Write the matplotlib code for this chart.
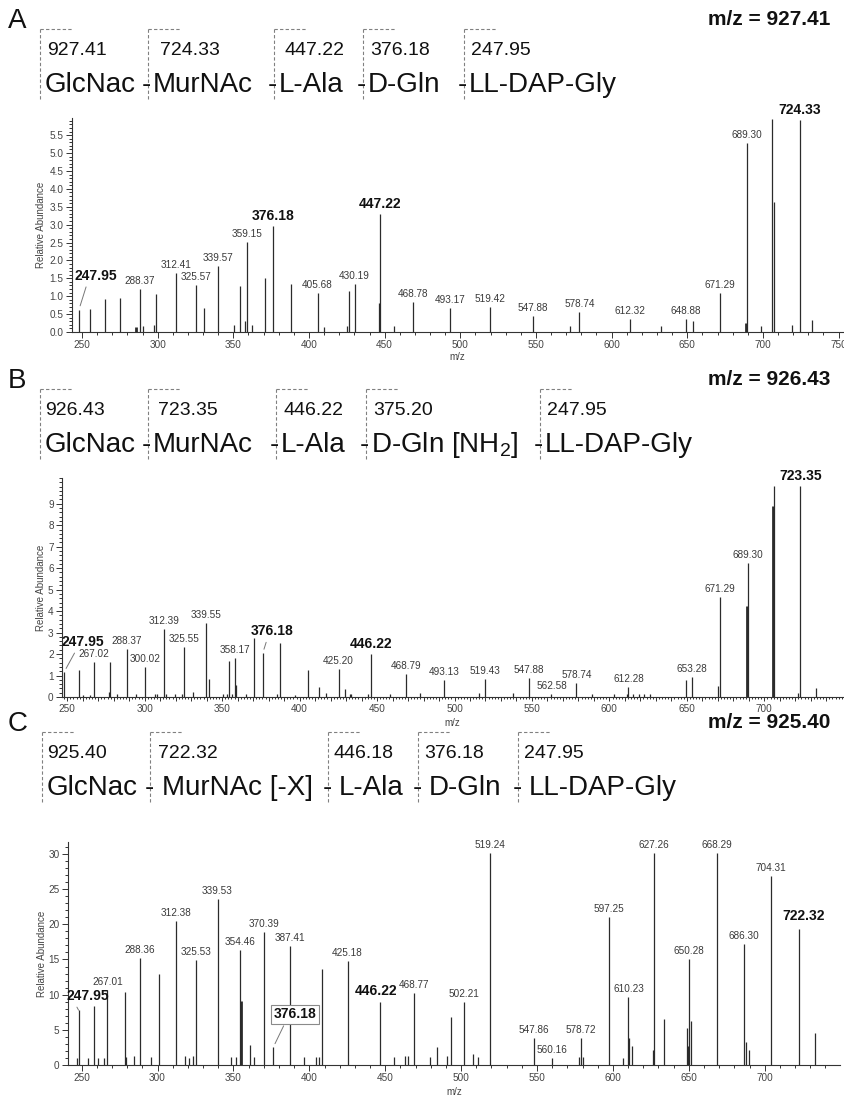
import matplotlib
matplotlib.use('Agg')
import matplotlib.pyplot as plt
from matplotlib.lines import Line2D
from matplotlib.ticker import MultipleLocator, FixedLocator, FuncFormatter

W, H = 845, 1096
plt.rcParams['font.family'] = ['Liberation Sans', 'DejaVu Sans']
plt.rcParams['mathtext.default'] = 'regular'

# ---------------- data ----------------
# panel A, precursor 927.41
a_title = 'm/z = 927.41'
a_frag = ['927.41', '724.33', '447.22', '376.18', '247.95']
a_units = ['GlcNac', 'MurNAc', 'L-Ala', 'D-Gln', 'LL-DAP-Gly']
a_mz = [247.95, 255.6, 265.2, 275.3, 286.0, 288.37, 290.2, 297.4, 298.7, 312.41,
        325.57, 330.4, 339.57, 350.6, 354.4, 357.7, 359.15, 362.6, 370.9, 376.18,
        387.9, 405.68, 410.2, 425.4, 426.5, 430.19, 446.2, 447.22, 456.3, 468.78,
        493.17, 519.42, 547.88, 572.8, 578.74, 612.32, 632.5, 648.88, 653.5, 671.29,
        688.6, 689.30, 698.5, 706.1, 707.0, 718.9, 724.33, 732.5]
a_int = [0.62, 0.65, 0.92, 0.95, 0.14, 1.21, 0.16, 0.19, 1.07, 1.65,
         1.32, 0.68, 1.84, 0.19, 1.28, 0.30, 2.52, 0.20, 1.51, 2.96,
         1.33, 1.09, 0.14, 0.17, 1.14, 1.35, 0.81, 3.29, 0.17, 0.83,
         0.68, 0.70, 0.44, 0.17, 0.56, 0.35, 0.17, 0.35, 0.30, 1.08,
         0.25, 5.28, 0.17, 5.96, 3.63, 0.19, 5.92, 0.33]
a_thick = [286.0, 688.6]
a_labels = [288.37, 312.41, 325.57, 339.57, 359.15, 405.68, 430.19, 468.78, 493.17,
            519.42, 547.88, 578.74, 612.32, 648.88, 671.29, 689.30]
a_bold = [247.95, 376.18, 447.22, 724.33]

# panel B, precursor 926.43
b_title = 'm/z = 926.43'
b_frag = ['926.43', '723.35', '446.22', '375.20', '247.95']
b_units = ['GlcNac', 'MurNAc', 'L-Ala', 'D-Gln [NH$_2$]', 'LL-DAP-Gly']
b_mz = [247.95, 257.3, 260.3, 264.6, 267.02, 276.7, 277.3, 282.3, 288.37, 294.3,
        300.02, 306.8, 308.0, 312.39, 313.7, 319.5, 323.8, 325.55, 331.3, 339.55,
        341.4, 350.6, 352.8, 354.7, 356.2, 358.17, 359.2, 365.3, 370.4, 376.18,
        385.5, 387.6, 396.9, 405.5, 412.4, 417.3, 425.20, 429.4, 432.4, 433.4,
        444.2, 446.22, 458.2, 468.79, 477.5, 493.13, 516.0, 519.43, 537.6, 547.88,
        562.58, 578.74, 588.6, 603.0, 611.2, 612.28, 615.5, 619.4, 622.4, 626.2,
        649.2, 653.28, 670.3, 671.29, 688.6, 689.30, 705.6, 706.3, 721.5, 723.35,
        733.1]
b_int = [1.16, 1.24, 0.10, 0.10, 1.61, 0.25, 1.61, 0.15, 2.24, 0.12,
         1.38, 0.15, 0.15, 3.15, 0.12, 0.13, 0.12, 2.33, 0.22, 3.43,
         0.84, 0.15, 0.15, 1.70, 0.15, 1.81, 0.55, 0.15, 2.73, 2.04,
         0.15, 2.53, 0.10, 1.24, 0.47, 0.17, 1.32, 0.35, 0.15, 0.15,
         0.12, 2.00, 0.15, 1.09, 0.17, 0.81, 0.17, 0.84, 0.17, 0.89,
         0.15, 0.67, 0.12, 0.15, 0.15, 0.46, 0.12, 0.12, 0.12, 0.12,
         0.78, 0.92, 0.50, 4.67, 4.23, 6.22, 8.90, 9.83, 0.17, 9.83,
         0.43]
b_thick = [688.6, 705.6]
b_labels = [267.02, 288.37, 300.02, 312.39, 325.55, 339.55, 358.17, 425.20, 468.79,
            493.13, 519.43, 547.88, 562.58, 578.74, 612.28, 653.28, 671.29, 689.30]
b_bold = [247.95, 376.18, 446.22, 723.35]

# panel C, precursor 925.40
c_title = 'm/z = 925.40'
c_frag = ['925.40', '722.32', '446.18', '376.18', '247.95']
c_units = ['GlcNac', 'MurNAc [-X]', 'L-Ala', 'D-Gln', 'LL-DAP-Gly']
c_mz = [247.1, 247.95, 254.4, 258.0, 260.6, 264.6, 267.01, 278.4, 279.0, 284.8,
        288.36, 296.0, 301.2, 312.38, 317.8, 320.5, 323.2, 325.53, 339.53, 348.7,
        352.0, 354.46, 354.9, 361.1, 363.3, 370.39, 376.18, 387.41, 396.3, 404.1,
        406.1, 408.1, 425.18, 446.22, 456.1, 463.2, 464.7, 468.77, 479.5, 484.2,
        491.0, 493.6, 502.21, 507.5, 511.2, 519.24, 547.86, 560.16, 577.4, 578.72,
        580.4, 597.25, 606.6, 610.23, 610.9, 612.7, 626.6, 627.26, 633.8, 648.8,
        649.5, 650.28, 651.6, 668.29, 686.30, 687.9, 689.7, 704.31, 722.32, 733.2]
c_int = [0.95, 7.8, 1.0, 8.4, 1.0, 1.0, 10.6, 10.4, 1.2, 1.3,
         15.2, 1.1, 13.0, 20.4, 1.3, 1.0, 1.3, 14.9, 23.6, 1.2,
         1.1, 16.4, 9.1, 2.9, 1.1, 18.9, 2.5, 16.9, 1.1, 1.1,
         1.2, 13.6, 14.8, 8.9, 1.1, 1.3, 1.3, 10.2, 1.1, 2.5,
         1.3, 6.8, 9.0, 1.5, 1.1, 30.2, 3.9, 1.0, 1.1, 3.9,
         1.2, 21.0, 1.0, 9.7, 3.9, 2.7, 2.2, 30.2, 6.6, 5.2,
         2.7, 15.1, 6.3, 30.2, 17.2, 3.2, 2.1, 26.8, 19.3, 4.6]
c_thick = [354.9, 649.5]
c_labels = [267.01, 288.36, 312.38, 325.53, 339.53, 354.46, 370.39, 387.41, 425.18,
            468.77, 502.21, 519.24, 547.86, 560.16, 578.72, 597.25, 610.23, 627.26,
            650.28, 668.29, 686.30, 704.31]
c_bold = [247.95, 446.22, 722.32]
c_boxed = [376.18]

# ---------------- drawing ----------------
TXT = '#3a3a3a'
LINE = '#2b2b2b'

fig = plt.figure(figsize=(W / 100, H / 100), dpi=100)


def fxy(x, y):
    return x / W, 1 - y / H


def rect(l, t, r, b):
    return [l / W, 1 - b / H, (r - l) / W, (b - t) / H]


def header(dy, letter, title, frags, units, brackets, num_x, name_x, dash_dx):
    fig.text(*fxy(8, 28 + dy), letter, fontsize=20, color='#111111')
    fig.text(*fxy(830, 25 + dy), title, fontsize=15, fontweight='bold',
             ha='right', color='#111111')
    for i, bx in enumerate(brackets):
        x0, yt = fxy(bx, 29 + dy)
        x1, yb = fxy(bx + 33, 101 + dy)
        ls = dict(ls=(0, (3, 2)), lw=0.8, color='#808080')
        fig.add_artist(Line2D([x0, x0], [yt, yb], **ls))
        fig.add_artist(Line2D([x0, x1], [yt, yt], **ls))
        fig.text(*fxy(num_x[i], 55 + dy), frags[i], fontsize=14, color='#111111')
        fig.text(*fxy(name_x[i], 92 + dy), units[i], fontsize=20, color='#111111')
        if i > 0:
            fig.text(*fxy(bx + dash_dx, 92 + dy), '-', fontsize=20, ha='center',
                     color='#111111')


def spectrum(box, xlim, ylim, mz, inten, thick, labels, bold, yticks, yminor,
             yfmt, ylab_x, xlab_y, fine=False, special=None, boxed=()):
    ax = fig.add_axes(rect(*box))
    widths = [2.0 if m in thick else 0.9 for m in mz]
    ax.vlines(mz, 0, inten, colors=LINE, linewidths=widths)
    ax.set_xlim(*xlim)
    ax.set_ylim(*ylim)
    for s in ['top', 'right']:
        ax.spines[s].set_visible(False)
    for s in ['left', 'bottom']:
        ax.spines[s].set_color('#333333')
        ax.spines[s].set_linewidth(0.8)
    ax.yaxis.set_major_locator(FixedLocator(yticks))
    ax.yaxis.set_minor_locator(MultipleLocator(yminor))
    ax.yaxis.set_major_formatter(FuncFormatter(lambda v, p: yfmt % v))
    if fine:
        ax.xaxis.set_major_locator(FixedLocator(range(250, 750, 10)))
        ax.xaxis.set_minor_locator(MultipleLocator(2))
        ax.xaxis.set_major_formatter(
            FuncFormatter(lambda v, p: '%d' % v if round(v) % 50 == 0 else ''))
        ax.tick_params(axis='x', which='major', length=3)
        ax.tick_params(axis='x', which='minor', length=1.5)
    else:
        ax.xaxis.set_major_locator(MultipleLocator(50))
        ax.xaxis.set_minor_locator(MultipleLocator(10))
        ax.tick_params(axis='x', which='major', length=4)
        ax.tick_params(axis='x', which='minor', length=2.5)
    ax.tick_params(axis='y', which='major', length=4)
    ax.tick_params(axis='y', which='minor', length=2)
    ax.tick_params(which='both', direction='out', width=0.7, color='#333333',
                   labelsize=7.2, labelcolor='#444444', pad=2)
    ax.set_ylabel('Relative Abundance', fontsize=7, color='#444444')
    ax.yaxis.set_label_coords(ylab_x, 0.5)
    ax.set_xlabel('m/z', fontsize=7, color='#444444')
    ax.xaxis.set_label_coords(0.5, xlab_y)

    peak = dict(zip(mz, inten))
    special = special or {}
    for m in labels + bold + list(boxed):
        dx, dy, rel = special.get(m, (0, 3, None))
        kw = dict(fontsize=10, fontweight='bold', color='#111111') if m in bold or m in boxed \
            else dict(fontsize=7.2, color=TXT)
        if m in boxed:
            kw['bbox'] = dict(boxstyle='square,pad=0.2', fc='white', ec='#8a8a8a', lw=0.8)
        if rel is not None:
            kw['arrowprops'] = dict(arrowstyle='-', color='#777777', lw=0.7,
                                    shrinkA=1, shrinkB=3, relpos=rel)
        ax.annotate('%.2f' % m, (m, peak[m]), xytext=(dx, dy),
                    textcoords='offset pixels', ha='center', va='bottom', **kw)
    return ax


# panel A
header(0, 'A', a_title, a_frag, a_units, [40, 148, 274, 363, 464],
       [47, 160, 285, 370, 471], [45, 153, 279, 368, 469], -2)
spectrum((72, 118, 843, 332), (243.4, 752.9), (0, 5.98), a_mz, a_int, a_thick,
         a_labels, a_bold, [i * 0.5 for i in range(12)], 0.1, '%.1f', -0.034, -0.093,
         special={247.95: (17, 27, (0.3, 0))})

# panel B
header(360, 'B', b_title, b_frag, b_units, [40, 148, 276, 366, 540],
       [45, 158, 284, 373, 547], [45, 153, 281, 371, 545], -2)
spectrum((62, 478, 843, 697), (246.6, 750.8), (0, 10.2), b_mz, b_int, b_thick,
         b_labels, b_bold, list(range(10)), 0.2, '%d', -0.020, -0.096, fine=True,
         special={247.95: (19, 23, (0.35, 0)), 376.18: (9, 15, (0.4, 0))})

# panel C
header(703, 'C', c_title, c_frag, c_units, [42, 150, 328, 418, 518],
       [47, 158, 334, 424, 524], [47, 162, 339, 429, 529], -1)
spectrum((68, 842, 840, 1065), (241.0, 749.6), (0, 31.7), c_mz, c_int, c_thick,
         c_labels, c_bold, list(range(0, 35, 5)), 1, '%d', -0.027, -0.099,
         special={247.95: (9, 7, (0.2, 0)), 376.18: (22, 26, (0.28, 0)),
                  446.22: (-4, 4, None), 722.32: (5, 6, None)},
         boxed=c_boxed)

fig.savefig('out.png', dpi=100)
